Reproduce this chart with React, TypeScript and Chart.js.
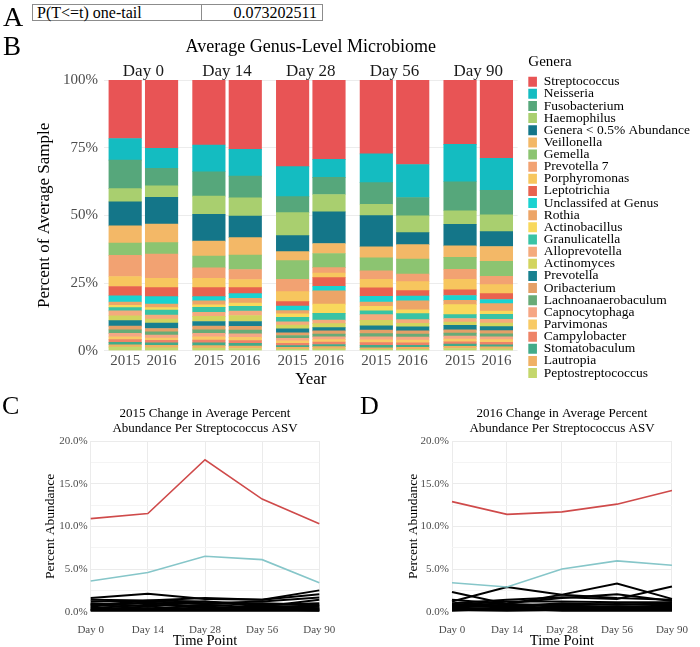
import React, { useEffect, useRef } from 'react';
import { Chart, registerables } from 'chart.js';

Chart.register(...registerables);

const SERIF = '"Liberation Serif", "Times New Roman", serif';

// ---------- Panel A ----------
const tableLabel = 'P(T<=t) one-tail';
const tableValue = '0.073202511';

// ---------- Panel B data ----------
const facetLabels = ['Day 0', 'Day 14', 'Day 28', 'Day 56', 'Day 90'];
const yearLabels = ['2015', '2016'];
const barTickValues = [0, 25, 50, 75, 100];

const genusNames = [
  'Streptococcus', 'Neisseria', 'Fusobacterium', 'Haemophilus', 'Genera < 0.5% Abundance',
  'Veillonella', 'Gemella', 'Prevotella 7', 'Porphyromonas', 'Leptotrichia',
  'Unclassifed at Genus', 'Rothia', 'Actinobacillus', 'Granulicatella', 'Alloprevotella',
  'Actinomyces', 'Prevotella', 'Oribacterium', 'Lachnoanaerobaculum', 'Capnocytophaga',
  'Parvimonas', 'Campylobacter', 'Stomatobaculum', 'Lautropia', 'Peptostreptococcus',
];
const genusColors = [
  '#e85455', '#14bcc1', '#56a77b', '#a9cf6f', '#147689',
  '#f3b867', '#8cc471', '#f2a272', '#f7c65e', '#e8624f',
  '#1ad2d0', '#eda567', '#f8d85c', '#38c3a5', '#f4aa7c',
  '#d2d45e', '#17808f', '#e4a067', '#68ab77', '#f6a684',
  '#f8ca66', '#ee8367', '#42ab89', '#f0b164', '#c4d76c',
];

// order of each array: Day0-2015, Day0-2016, Day14-2015, Day14-2016, ... Day90-2016
const streptococcus = [21.6, 25.2, 24.0, 25.6, 32.0, 29.3, 27.3, 31.2, 23.8, 28.9];
const neisseria = [8.0, 7.4, 9.9, 9.9, 11.1, 6.7, 10.6, 12.2, 13.8, 11.9];
const fusobacterium = [10.5, 6.5, 9.0, 8.0, 5.9, 6.3, 8.0, 6.8, 10.7, 9.0];
const haemophilus = [4.9, 4.2, 6.7, 6.8, 8.5, 6.4, 4.2, 6.2, 5.0, 6.2];
const lowAbundance = [8.9, 9.9, 9.9, 7.9, 5.9, 11.7, 11.5, 4.4, 8.0, 5.5];
const veillonella = [6.3, 6.9, 5.5, 6.5, 3.3, 3.7, 4.1, 5.4, 4.2, 5.5];
const gemella = [4.6, 4.2, 4.4, 5.3, 6.9, 5.2, 4.8, 5.5, 4.4, 5.5];
const prevotella7 = [7.8, 9.0, 3.9, 3.7, 4.6, 2.0, 3.1, 2.8, 3.7, 3.1];
const porphyromonas = [3.7, 3.4, 3.4, 3.0, 3.7, 1.7, 3.2, 3.3, 3.9, 3.3];
const leptotrichia = [3.4, 3.3, 3.3, 2.2, 1.6, 3.2, 3.1, 2.0, 2.1, 2.2];
const unclassified = [2.3, 2.8, 1.6, 1.8, 1.7, 1.7, 2.1, 1.8, 1.8, 1.5];
const rothia = [1.2, 1.3, 1.5, 1.7, 1.2, 4.9, 1.6, 3.3, 1.6, 2.8];
const actinobacillus = [0.9, 0.9, 0.9, 1.2, 1.3, 3.4, 1.7, 1.4, 3.7, 1.2];
const granulicatella = [1.2, 1.8, 1.8, 1.8, 1.6, 2.5, 1.4, 2.2, 1.4, 1.8];
const alloprevotella = [1.8, 1.5, 1.5, 1.6, 1.2, 1.3, 2.1, 1.4, 1.3, 1.4];
const actinomyces = [1.8, 1.5, 1.9, 2.2, 1.4, 1.5, 2.0, 1.3, 1.2, 1.3];
const prevotella = [2.0, 2.0, 1.7, 1.8, 1.5, 1.2, 1.6, 1.5, 1.7, 1.5];
const oribacterium = [1.4, 1.2, 1.4, 1.4, 1.0, 1.2, 1.3, 1.2, 1.2, 1.2];
const lachnoanaerobaculum = [1.3, 1.2, 1.3, 1.4, 1.0, 1.0, 1.2, 1.1, 1.1, 1.1];
const capnocytophaga = [1.3, 1.1, 1.3, 1.3, 1.0, 1.0, 1.1, 1.1, 1.1, 1.0];
const parvimonas = [1.0, 0.9, 1.2, 1.2, 0.9, 0.9, 1.0, 1.0, 1.0, 1.0];
const campylobacter = [1.0, 0.9, 1.0, 1.0, 0.8, 0.9, 1.0, 0.9, 0.9, 0.9];
const stomatobaculum = [0.9, 0.9, 1.0, 1.0, 0.7, 0.8, 0.9, 0.8, 0.8, 0.8];
const lautropia = [0.9, 0.9, 0.9, 0.9, 0.6, 0.8, 0.6, 0.7, 0.8, 0.7];
const peptostreptococcus = [1.3, 1.1, 1.0, 0.8, 0.6, 0.7, 0.5, 0.5, 0.8, 0.7];

const genusValues = [
  streptococcus, neisseria, fusobacterium, haemophilus, lowAbundance,
  veillonella, gemella, prevotella7, porphyromonas, leptotrichia,
  unclassified, rothia, actinobacillus, granulicatella, alloprevotella,
  actinomyces, prevotella, oribacterium, lachnoanaerobaculum, capnocytophaga,
  parvimonas, campylobacter, stomatobaculum, lautropia, peptostreptococcus,
];

// ---------- Panels C / D data ----------
const timePoints = ['Day 0', 'Day 14', 'Day 28', 'Day 56', 'Day 90'];
const lineTickValues = [0, 2.5, 5, 7.5, 10, 12.5, 15, 17.5, 20];

const asvTop2015 = [10.9, 11.5, 17.8, 13.2, 10.3];
const asvSecond2015 = [3.6, 4.6, 6.5, 6.1, 3.4];
const asvOthers2015 = [
  [1.6, 2.1, 1.5, 1.4, 2.5],
  [1.4, 1.3, 1.6, 1.4, 2.05],
  [1.2, 1.2, 1.0, 1.2, 1.65],
  [0.7, 1.3, 1.2, 0.6, 1.4],
  [1.0, 0.6, 1.2, 0.8, 1.0],
  [0.6, 1.1, 0.4, 0.6, 0.7],
  [0.9, 0.3, 0.8, 0.5, 0.6],
  [0.4, 0.8, 0.6, 0.3, 0.4],
  [0.3, 0.4, 0.3, 0.7, 0.4],
  [0.5, 0.2, 0.2, 0.2, 0.3],
  [0.2, 0.3, 0.5, 0.4, 0.2],
  [0.1, 0.1, 0.1, 0.1, 0.1],
  [0.2, 0.6, 0.2, 0.3, 0.15],
  [0.8, 1.0, 0.9, 1.0, 0.8],
];

const asvTop2016 = [12.9, 11.4, 11.7, 12.6, 14.2];
const asvSecond2016 = [3.4, 2.9, 5.0, 5.95, 5.45];
const asvOthers2016 = [
  [2.3, 0.9, 0.7, 0.5, 0.6],
  [1.2, 2.9, 2.0, 1.6, 1.4],
  [1.4, 0.9, 2.0, 3.3, 1.5],
  [1.0, 1.4, 1.7, 1.5, 2.95],
  [0.7, 1.0, 1.6, 2.05, 1.25],
  [0.8, 1.2, 1.2, 1.1, 1.1],
  [0.6, 0.6, 1.0, 0.8, 1.0],
  [0.5, 0.3, 0.7, 0.6, 0.7],
  [0.4, 0.2, 0.5, 0.3, 0.5],
  [0.3, 0.5, 0.3, 0.4, 0.3],
  [0.2, 0.1, 0.2, 0.2, 0.2],
  [0.1, 0.4, 0.1, 0.1, 0.1],
  [0.6, 0.8, 0.8, 0.9, 0.8],
  [0.9, 0.7, 0.4, 0.6, 0.4],
];

// ---------- layout constants ----------
const BAR_OFFSET = 0.2173; // half distance between the two bars of a facet (in facet units)
const barXs: number[] = [];
facetLabels.forEach((_, f) => yearLabels.forEach((__, y) => barXs.push(f + (y === 0 ? -BAR_OFFSET : BAR_OFFSET))));

const stripPlugin = {
  id: 'facetStrips',
  afterDraw(chart: any) {
    const { ctx, chartArea } = chart;
    const x = chart.scales.x;
    ctx.save();
    ctx.font = `17px ${SERIF}`;
    ctx.fillStyle = '#1a1a1a';
    ctx.textAlign = 'center';
    ctx.textBaseline = 'middle';
    facetLabels.forEach((lab, i) => ctx.fillText(lab, x.getPixelForValue(i), chartArea.top - 8));
    ctx.restore();
  },
};

function barConfig(): any {
  const datasets = genusNames
    .map((name, g) => ({
      label: name,
      data: genusValues[g].map((v, k) => ({ x: barXs[k], y: v })),
      backgroundColor: genusColors[g],
      borderWidth: 0,
      barThickness: 32.5,
    }))
    .reverse();
  return {
    type: 'bar',
    data: { datasets },
    plugins: [stripPlugin],
    options: {
      animation: false,
      responsive: false,
      maintainAspectRatio: false,
      layout: { padding: { left: 0, right: 0, top: 0, bottom: 0 } },
      plugins: {
        tooltip: { enabled: false },
        title: {
          display: true,
          text: 'Average Genus-Level Microbiome',
          fullSize: false,
          color: '#000',
          font: { family: SERIF, size: 18, lineHeight: 1, weight: 'normal' },
          padding: { top: 8, bottom: 24 },
        },
        legend: {
          display: true,
          position: 'right',
          align: 'start',
          reverse: true,
          maxWidth: 200,
          title: {
            display: true,
            text: 'Genera',
            position: 'start',
            color: '#000',
            font: { family: SERIF, size: 15, lineHeight: 1.2 },
            padding: { top: 24.2, bottom: 4.1 },
          },
          labels: {
            boxWidth: 10,
            boxHeight: 10,
            padding: -1.36,
            color: '#000',
            font: { family: SERIF, size: 13.5 },
          },
        },
      },
      scales: {
        x: {
          type: 'linear',
          stacked: true,
          offset: false,
          min: -0.4702,
          max: 4.4702,
          bounds: 'data',
          grid: { display: false, drawTicks: false, offset: false },
          border: { display: false },
          afterBuildTicks: (s: any) => { s.ticks = barXs.map((v) => ({ value: v })); },
          ticks: {
            autoSkip: false,
            maxRotation: 0,
            padding: 1,
            color: '#4d4d4d',
            font: { family: SERIF, size: 15 },
            callback: (_v: any, i: number) => yearLabels[i % 2],
          },
          title: {
            display: true,
            text: 'Year',
            color: '#000',
            font: { family: SERIF, size: 17, lineHeight: 1 },
            padding: { top: 0, bottom: 6.5 },
          },
          afterFit: (s: any) => { s.height = 44.3; },
        },
        y: {
          stacked: true,
          min: 0,
          max: 100,
          afterBuildTicks: (s: any) => { s.ticks = barTickValues.map((v) => ({ value: v })); },
          grid: { color: '#ececec', drawTicks: false },
          border: { display: false },
          ticks: {
            padding: 6,
            color: '#4d4d4d',
            font: { family: SERIF, size: 15 },
            callback: (v: any) => `${v}%`,
          },
          title: {
            display: true,
            text: 'Percent of Average Sample',
            color: '#000',
            font: { family: SERIF, size: 17, lineHeight: 1 },
            padding: { top: 36.5, bottom: 0 },
          },
          afterFit: (s: any) => { s.width = 104; },
        },
        gap: {
          type: 'linear',
          position: 'right',
          display: true,
          grid: { display: false, drawTicks: false },
          border: { display: false },
          ticks: { display: false },
          afterFit: (s: any) => { s.width = 10.7; },
        },
      },
    },
  };
}

function lineConfig(title: string[], top: number[], second: number[], others: number[][], yWidth: number, yTitlePad: number, padRight: number): any {
  const datasets = [
    { data: top, borderColor: '#cf4a4a', borderWidth: 1.6 },
    { data: second, borderColor: '#86c6c9', borderWidth: 1.6 },
    ...others.map((d) => ({ data: d, borderColor: '#000000', borderWidth: 2 })),
  ].map((d) => ({ ...d, pointRadius: 0, tension: 0, clip: false, fill: false }));
  return {
    type: 'line',
    data: { labels: timePoints, datasets },
    options: {
      animation: false,
      responsive: false,
      maintainAspectRatio: false,
      layout: { padding: { left: 0, right: padRight, top: 0, bottom: 0 } },
      plugins: {
        legend: { display: false },
        tooltip: { enabled: false },
        title: {
          display: true,
          text: title,
          fullSize: false,
          color: '#000',
          font: { family: SERIF, size: 13, lineHeight: 1.154, weight: 'normal' },
          padding: { top: 10.8, bottom: 5.2 },
        },
      },
      scales: {
        x: {
          offset: false,
          grid: { color: '#ebebeb', drawTicks: false },
          border: { display: false },
          ticks: { padding: 12, color: '#4d4d4d', font: { family: SERIF, size: 11 }, maxRotation: 0, autoSkip: false },
          title: {
            display: true,
            text: 'Time Point',
            color: '#000',
            font: { family: SERIF, size: 14.5, lineHeight: 0.8 },
            padding: { top: 0, bottom: 0 },
          },
          afterFit: (s: any) => { s.height = 35.3; },
        },
        y: {
          min: 0,
          max: 20,
          afterBuildTicks: (s: any) => { s.ticks = lineTickValues.map((v) => ({ value: v })); },
          grid: {
            color: (c: any) => (c.tick && c.tick.value % 5 === 0 ? '#ebebeb' : '#f4f4f4'),
            drawTicks: false,
          },
          border: { display: false },
          ticks: {
            padding: 3,
            color: '#4d4d4d',
            font: { family: SERIF, size: 11 },
            callback: (v: any) => (v % 5 === 0 ? `${Number(v).toFixed(1)}%` : ''),
          },
          title: {
            display: true,
            text: 'Percent Abundance',
            color: '#000',
            font: { family: SERIF, size: 13.5, lineHeight: 1 },
            padding: { top: yTitlePad, bottom: 0 },
          },
          afterFit: (s: any) => { s.width = yWidth; },
        },
      },
    },
  };
}

function ChartCanvas({ make, left, top, width, height }: { make: () => any; left: number; top: number; width: number; height: number }) {
  const ref = useRef<HTMLCanvasElement | null>(null);
  useEffect(() => {
    if (!ref.current) return;
    const chart = new Chart(ref.current, make());
    return () => chart.destroy();
  }, []);
  return (
    <canvas
      ref={ref}
      width={width}
      height={height}
      style={{ position: 'absolute', left, top, width, height }}
    />
  );
}

const panelLetter = (text: string, left: number, top: number, size: number) => (
  <div
    style={{
      position: 'absolute', left, top, fontFamily: SERIF, fontSize: size,
      lineHeight: `${size}px`, color: '#000',
    }}
  >
    {text}
  </div>
);

export default function App() {
  return (
    <div style={{ position: 'absolute', left: 0, top: 0, width: 700, height: 647, background: '#fff', overflow: 'hidden' }}>
      <ChartCanvas make={barConfig} left={0} top={30} width={700} height={365} />
      <ChartCanvas
        make={() => lineConfig(['2015 Change in Average Percent', 'Abundance Per Streptococcus ASV'], asvTop2015, asvSecond2015, asvOthers2015, 90.7, 43.25, 30.7)}
        left={0} top={395} width={350} height={252}
      />
      <ChartCanvas
        make={() => lineConfig(['2016 Change in Average Percent', 'Abundance Per Streptococcus ASV'], asvTop2016, asvSecond2016, asvOthers2016, 102, 56.5, 17)}
        left={350} top={395} width={350} height={252}
      />
      <div
        style={{
          position: 'absolute', left: 32, top: 4, width: 291, height: 17, boxSizing: 'border-box',
          border: '1px solid #8c8c8c', display: 'flex', fontFamily: SERIF, fontSize: 16, lineHeight: '15px', color: '#000',
        }}
      >
        <div style={{ width: 169, borderRight: '1px solid #8c8c8c', paddingLeft: 4, boxSizing: 'border-box', whiteSpace: 'nowrap' }}>{tableLabel}</div>
        <div style={{ flex: 1, textAlign: 'right', paddingRight: 5, whiteSpace: 'nowrap' }}>{tableValue}</div>
      </div>
      {panelLetter('A', 3, 2.5, 28)}
      {panelLetter('B', 3, 33.4, 27)}
      {panelLetter('C', 2, 393, 26)}
      {panelLetter('D', 360, 393, 26)}
    </div>
  );
}
